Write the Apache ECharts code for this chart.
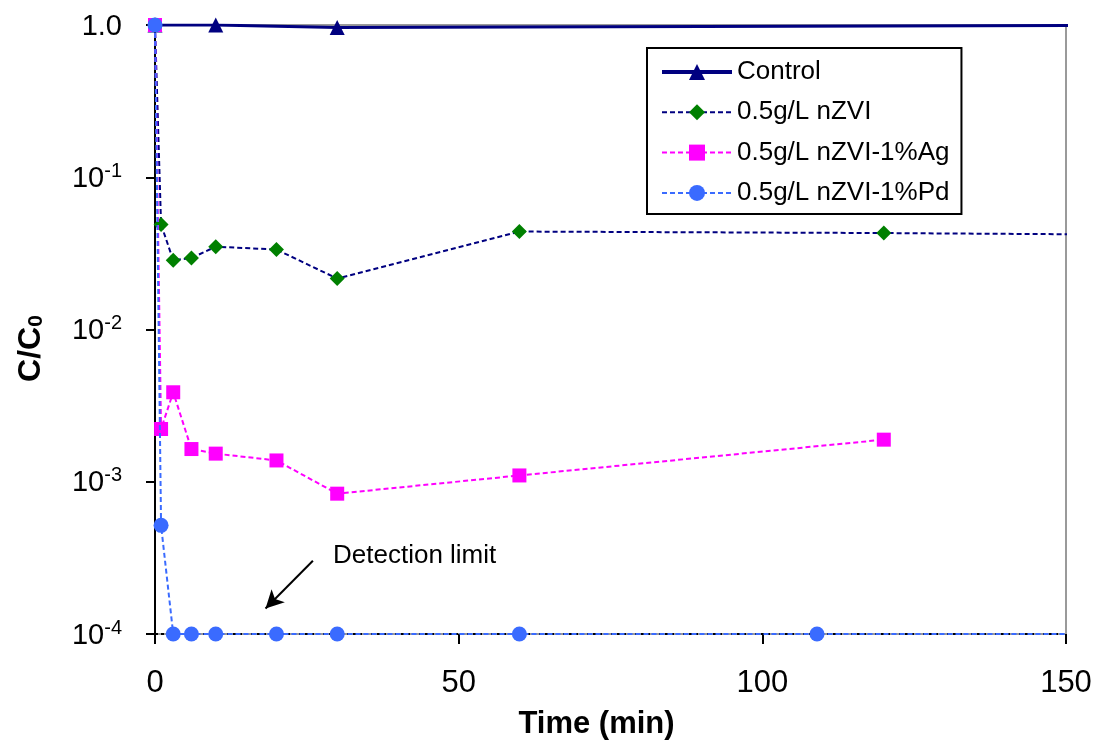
<!DOCTYPE html>
<html>
<head>
<meta charset="utf-8">
<script src="https://cdn.jsdelivr.net/npm/echarts@6/dist/echarts.min.js"></script>
<style>
  html, body { margin: 0; padding: 0; background: #fff; }
  #chart { width: 1096px; height: 742px; }
</style>
</head>
<body>
<div id="chart"></div>
<script>
// ---- data ----
const seriesNames = ['Control', '0.5g/L nZVI', '0.5g/L nZVI-1%Ag', '0.5g/L nZVI-1%Pd'];
const controlTime = [0, 10, 30, 180];
const controlVal  = [1.0, 1.0, 0.963, 1.0];
const nzviTime = [0, 1, 3, 6, 10, 20, 30, 60, 120, 180];
const nzviVal  = [1.0, 0.049, 0.0285, 0.0295, 0.035, 0.0335, 0.0216, 0.044, 0.043, 0.0415];
const agTime = [0, 1, 3, 6, 10, 20, 30, 60, 120];
const agVal  = [1.0, 0.00222, 0.00387, 0.00164, 0.00153, 0.00138, 0.000835, 0.0011, 0.00189];
const pdTime = [0, 1, 3, 6, 10, 20, 30, 60, 109, 180];
const pdVal  = [1.0, 0.000517, 0.0001, 0.0001, 0.0001, 0.0001, 0.0001, 0.0001, 0.0001, 0.0001];
const detectionLimit = 0.0001;
const arrowFrom = [26, 0.000303];
const arrowTo = [18.2, 0.000147];
const xTicks = [0, 50, 100, 150];
const yMin = 0.0001, yMax = 1;

const pair = (t, v) => t.map((x, i) => [x, v[i]]);
const FONT = '"Liberation Sans", Arial, Helvetica, sans-serif';

const chart = echarts.init(document.getElementById('chart'), null, { renderer: 'canvas' });

const option = {
  backgroundColor: '#ffffff',
  animation: false,
  textStyle: { fontFamily: FONT, color: '#000' },
  grid: {
    left: 155, right: 30, top: 25, bottom: 108,
    containLabel: false, outerBoundsMode: 'none',
    show: true, borderColor: '#9a9a9a', borderWidth: 2, backgroundColor: 'transparent'
  },
  legend: {
    orient: 'vertical',
    left: 647, top: 48,
    padding: [10, 12, 7, 13],
    itemGap: 12.3,
    itemWidth: 70, itemHeight: 20,
    borderColor: '#000', borderWidth: 2,
    backgroundColor: '#fff',
    textStyle: { fontFamily: FONT, fontSize: 26, color: '#000', lineHeight: 28 },
    data: [
      { name: seriesNames[0], lineStyle: { width: 4 } },
      { name: seriesNames[1] },
      { name: seriesNames[2] },
      { name: seriesNames[3] }
    ]
  },
  xAxis: {
    type: 'value', min: 0, max: 150, interval: 50,
    name: 'Time (min)', nameLocation: 'middle', nameGap: 75,
    nameTextStyle: { fontFamily: FONT, fontSize: 31, fontWeight: 'bold', color: '#000', padding: [0, 28, 0, 0] },
    axisLine: { show: true, onZero: false, lineStyle: { color: '#9a9a9a', width: 2 } },
    axisTick: { show: true, inside: false, length: 10, lineStyle: { color: '#000', width: 2 } },
    axisLabel: {
      fontFamily: FONT, fontSize: 31, color: '#000', margin: 34,
      formatter: v => xTicks.includes(v) ? String(v) : ''
    },
    splitLine: { show: false }
  },
  yAxis: {
    type: 'log', logBase: 10, min: yMin, max: yMax,
    name: '{m|C/C}{s|0}', nameLocation: 'middle', nameGap: 108, nameRotate: 90,
    nameTextStyle: {
      fontFamily: FONT, color: '#000', padding: [0, 38, 0, 0],
      rich: {
        m: { fontFamily: FONT, fontSize: 32, fontWeight: 'bold', lineHeight: 36, verticalAlign: 'bottom' },
        s: { fontFamily: FONT, fontSize: 21, fontWeight: 'bold', lineHeight: 28, verticalAlign: 'bottom' }
      }
    },
    axisLine: { show: true, onZero: false, lineStyle: { color: '#000', width: 2 } },
    axisTick: { show: true, inside: false, length: 9, lineStyle: { color: '#000', width: 2 } },
    minorTick: { show: false },
    axisLabel: {
      margin: 33, color: '#000',
      formatter: function (v) {
        const e = Math.round(Math.log10(v));
        if (e === 0) return '{b|1.0}';
        return '{b|10}{s|' + e + '}';
      },
      rich: {
        b: { fontFamily: FONT, fontSize: 29, color: '#000', lineHeight: 32, verticalAlign: 'bottom' },
        s: { fontFamily: FONT, fontSize: 20, color: '#000', lineHeight: 32, verticalAlign: 'top' }
      }
    },
    splitLine: { show: false }
  },
  series: [
    {
      name: seriesNames[0], type: 'line', data: pair(controlTime, controlVal),
      symbol: 'triangle', symbolSize: 15, z: 3,
      lineStyle: { color: '#000080', width: 3, type: 'solid' },
      itemStyle: { color: '#000080' }
    },
    {
      name: seriesNames[1], type: 'line', data: pair(nzviTime, nzviVal),
      symbol: 'diamond', symbolSize: 15, z: 4,
      lineStyle: { color: '#000080', width: 2, type: [5, 3] },
      itemStyle: { color: '#008000' }
    },
    {
      name: seriesNames[2], type: 'line', data: pair(agTime, agVal),
      symbol: 'rect', symbolSize: 14, z: 5,
      lineStyle: { color: '#ff00ff', width: 2, type: [5, 3] },
      itemStyle: { color: '#ff00ff' }
    },
    {
      name: seriesNames[3], type: 'line', data: pair(pdTime, pdVal),
      symbol: 'circle', symbolSize: 15, z: 6,
      lineStyle: { color: '#3a6bff', width: 2, type: [5, 3] },
      itemStyle: { color: '#3a6bff' },
      markLine: {
        silent: true, animation: false,
        label: { show: false },
        data: [
          [
            { coord: arrowFrom, symbol: 'none', lineStyle: { color: '#000', width: 2, type: 'solid' } },
            { coord: arrowTo, symbol: 'arrow', symbolSize: [14, 18] }
          ],
          [
            { coord: [0, detectionLimit], symbol: 'none', lineStyle: { color: '#000', width: 2, type: [3, 3] } },
            { coord: [150, detectionLimit], symbol: 'none' }
          ]
        ]
      }
    }
  ],
  graphic: [
    {
      type: 'text', left: 333, top: 543, z: 10,
      style: { text: 'Detection limit', fontFamily: FONT, fontSize: 26, fill: '#000' }
    }
  ]
};

chart.setOption(option);
</script>
</body>
</html>
